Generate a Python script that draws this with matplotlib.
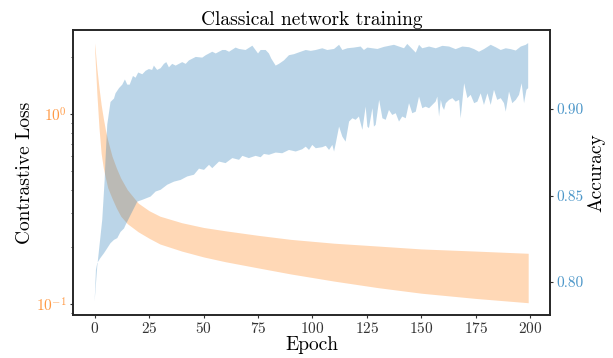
import matplotlib
matplotlib.use("Agg")
import matplotlib.pyplot as plt
import numpy as np

plt.rcParams.update({
    "font.family": "cmr10",
    "mathtext.fontset": "cm",
    "axes.formatter.use_mathtext": True,
    "axes.unicode_minus": False,
})

# contrastive loss band (upper / lower edge)
loss_epoch = [0, 1, 2, 3, 4, 5, 6, 8, 10, 12, 15, 20, 25, 30, 40, 50,
              60, 75, 90, 110, 130, 150, 175, 199]
loss_hi = [2.37, 1.75, 1.38, 1.12, 0.95, 0.82, 0.73, 0.60, 0.52, 0.46, 0.40,
           0.34, 0.31, 0.29, 0.268, 0.253, 0.243, 0.23, 0.219, 0.209, 0.202,
           0.195, 0.19, 0.185]
loss_lo = [2.2, 1.3, 0.85, 0.62, 0.52, 0.46, 0.41, 0.36, 0.32, 0.29, 0.265,
           0.24, 0.222, 0.207, 0.19, 0.177, 0.167, 0.155, 0.144, 0.132, 0.122,
           0.114, 0.107, 0.1016]

# accuracy band, upper edge
acc_hi_epoch = [0, 1.2, 3.5, 4.6, 5, 5.8, 7.3, 8.9, 9.6, 11.2, 12.7, 13.9, 15,
                16.1, 17.6, 18.8, 20, 21.9, 23.4, 24.9, 26.4, 27.2, 28.7, 30.3,
                31.8, 32.9, 34.1, 35.6, 37.2, 38.7, 40.2, 41.8, 43.3, 46.4,
                49.4, 51, 54, 55.6, 58.6, 60.1, 61.7, 64.7, 66.3, 69.3, 72.4,
                75, 76.2, 78.5, 80, 81.1, 83.1, 84.6, 86.9, 89.2, 91.5, 94.6,
                96.9, 99.2, 101.5, 104.5, 106.8, 109.9, 112.2, 113.7, 116,
                119, 122.1, 123.6, 125.2, 129.8, 132.8, 137.4, 142, 143.5,
                147.4, 148.9, 150.4, 153.5, 156.6, 159.6, 162.7, 165.7, 168.8,
                171.9, 174.2, 176.4, 178.7, 181.8, 184.1, 186.4, 188.7, 191,
                193.3, 195.6, 197.9, 199]
acc_hi = [0.7888, 0.809, 0.836, 0.859, 0.871, 0.891, 0.904, 0.906, 0.909,
          0.912, 0.914, 0.917, 0.914, 0.914, 0.919, 0.918, 0.921, 0.920, 0.922,
          0.923, 0.9225, 0.925, 0.9225, 0.9235, 0.926, 0.927, 0.924, 0.926,
          0.925, 0.926, 0.927, 0.926, 0.928, 0.930, 0.9296, 0.931, 0.933,
          0.932, 0.934, 0.934, 0.933, 0.9354, 0.9346, 0.934, 0.9365, 0.932,
          0.934, 0.934, 0.932, 0.929, 0.925, 0.926, 0.928, 0.931, 0.9316,
          0.933, 0.934, 0.9335, 0.934, 0.935, 0.934, 0.9346, 0.937, 0.934,
          0.935, 0.9354, 0.936, 0.934, 0.9354, 0.9346, 0.9358, 0.937, 0.935,
          0.9375, 0.9325, 0.937, 0.935, 0.936, 0.935, 0.9364, 0.936, 0.9345,
          0.936, 0.9356, 0.9345, 0.933, 0.9345, 0.937, 0.9356, 0.934, 0.935,
          0.9345, 0.9337, 0.936, 0.937, 0.938]

# accuracy band, lower edge
acc_lo_epoch = [0, 0.6, 1.2, 2.7, 4.3, 5.8, 7.3, 8.9, 10.4, 11.9, 13.5, 14.2,
                17, 19.6, 21.9, 25.7, 28, 30.3, 33.3, 36.4, 39.5, 42.5, 45.6,
                47.9, 50.2, 52.5, 54, 57.1, 60.1, 63.2, 66.3, 67.8, 70.8, 73.9,
                76.2, 77.7, 80, 83.1, 86.1, 89.2, 92.3, 95.3, 96.9, 98.4, 99.9,
                101.5, 104.5, 106.1, 107.6, 109.1, 109.9, 110.7, 112.2, 113.7,
                115.2, 116.8, 118.3, 119.8, 121.3, 122.9, 124.4, 125.2, 125.9,
                127.5, 128.2, 129, 130.6, 132.1, 133.6, 135.1, 136.6, 138.2,
                139.7, 141.2, 142.8, 144.3, 145.8, 147.4, 148.9, 150.4, 151.9,
                153.5, 155, 156.5, 157.3, 158.1, 158.9, 159.6, 160.4, 161.2,
                162.7, 164.2, 165.7, 167.3, 168, 169.6, 171.1, 172.6, 174.2,
                175.7, 177.2, 178.7, 180.3, 181.8, 183.3, 184.8, 186.4, 187.9,
                188.7, 190.2, 191.7, 193.3, 194.8, 196, 197.1, 198.2, 199]
acc_lo = [0.7888, 0.807, 0.811, 0.814, 0.8167, 0.8196, 0.8225, 0.8244, 0.8254,
          0.829, 0.831, 0.833, 0.840, 0.8465, 0.8475, 0.8494, 0.8523, 0.8533,
          0.8562, 0.858, 0.859, 0.861, 0.862, 0.8655, 0.8648, 0.8677, 0.8658,
          0.8696, 0.8687, 0.8716, 0.8706, 0.8729, 0.8716, 0.8729, 0.8721,
          0.874, 0.8735, 0.8748, 0.8744, 0.8763, 0.8754, 0.8767, 0.8782,
          0.8763, 0.8792, 0.8773, 0.8779, 0.8787, 0.8763, 0.8792, 0.8754,
          0.8802, 0.8898, 0.884, 0.8811, 0.8927, 0.8946, 0.8937, 0.8956,
          0.8879, 0.9013, 0.8898, 0.8889, 0.9004, 0.8898, 0.8908, 0.9052,
          0.8946, 0.8937, 0.8994, 0.8965, 0.8975, 0.8927, 0.8956, 0.8946,
          0.9033, 0.8975, 0.8984, 0.9071, 0.9004, 0.9013, 0.9004, 0.9023,
          0.9042, 0.9071, 0.8956, 0.9052, 0.9013, 0.8994, 0.9033, 0.9052,
          0.9062, 0.9042, 0.9052, 0.8946, 0.9148, 0.9062, 0.9081, 0.9033,
          0.9042, 0.909, 0.9023, 0.909, 0.9023, 0.911, 0.9052, 0.9062, 0.9033,
          0.8984, 0.91, 0.9033, 0.9052, 0.9081, 0.9148, 0.9033, 0.911, 0.912]

LOSS_TICK = "#ff9a45"
ACC_TICK = "#4d97c9"

fig = plt.figure(figsize=(6.13, 3.58), dpi=100)
ax = fig.add_axes([0.119, 0.120, 0.778, 0.796])
ax.fill_between(loss_epoch, loss_lo, loss_hi, color="C1", alpha=0.3, lw=0)
ax.set_yscale("log")
ax.set_ylim(0.0875, 2.77)
ax.set_xlim(-9.95, 208.95)
ax.set_xticks(np.arange(0, 201, 25))
ax.set_xlabel("Epoch", fontsize=14, labelpad=0)
ax.set_ylabel("Contrastive Loss", fontsize=14, labelpad=1)
ax.set_title("Classical network training", fontsize=14, pad=4)
ax.tick_params(axis="both", which="both", colors="0.2", labelsize=11)
ax.tick_params(axis="both", which="major", length=2.5, pad=2)
ax.tick_params(axis="y", which="minor", length=1.8)
ax.tick_params(axis="y", which="both", labelcolor=LOSS_TICK)

ax2 = ax.twinx()
ax2.fill(np.concatenate([acc_hi_epoch, acc_lo_epoch[::-1]]),
         np.concatenate([acc_hi, acc_lo[::-1]]),
         color="C0", alpha=0.3, lw=0)
ax2.set_ylim(0.781, 0.9455)
ax2.set_yticks([0.80, 0.85, 0.90])
ax2.set_yticklabels(["0.80", "0.85", "0.90"])
ax2.set_ylabel("Accuracy", fontsize=14, labelpad=3)
ax2.tick_params(axis="y", colors="0.2", labelcolor=ACC_TICK, labelsize=11,
                length=2.5, pad=2)

for a in (ax, ax2):
    for s in a.spines.values():
        s.set_linewidth(1.2)
        s.set_color("0.15")

fig.savefig("out.png", dpi=100)
